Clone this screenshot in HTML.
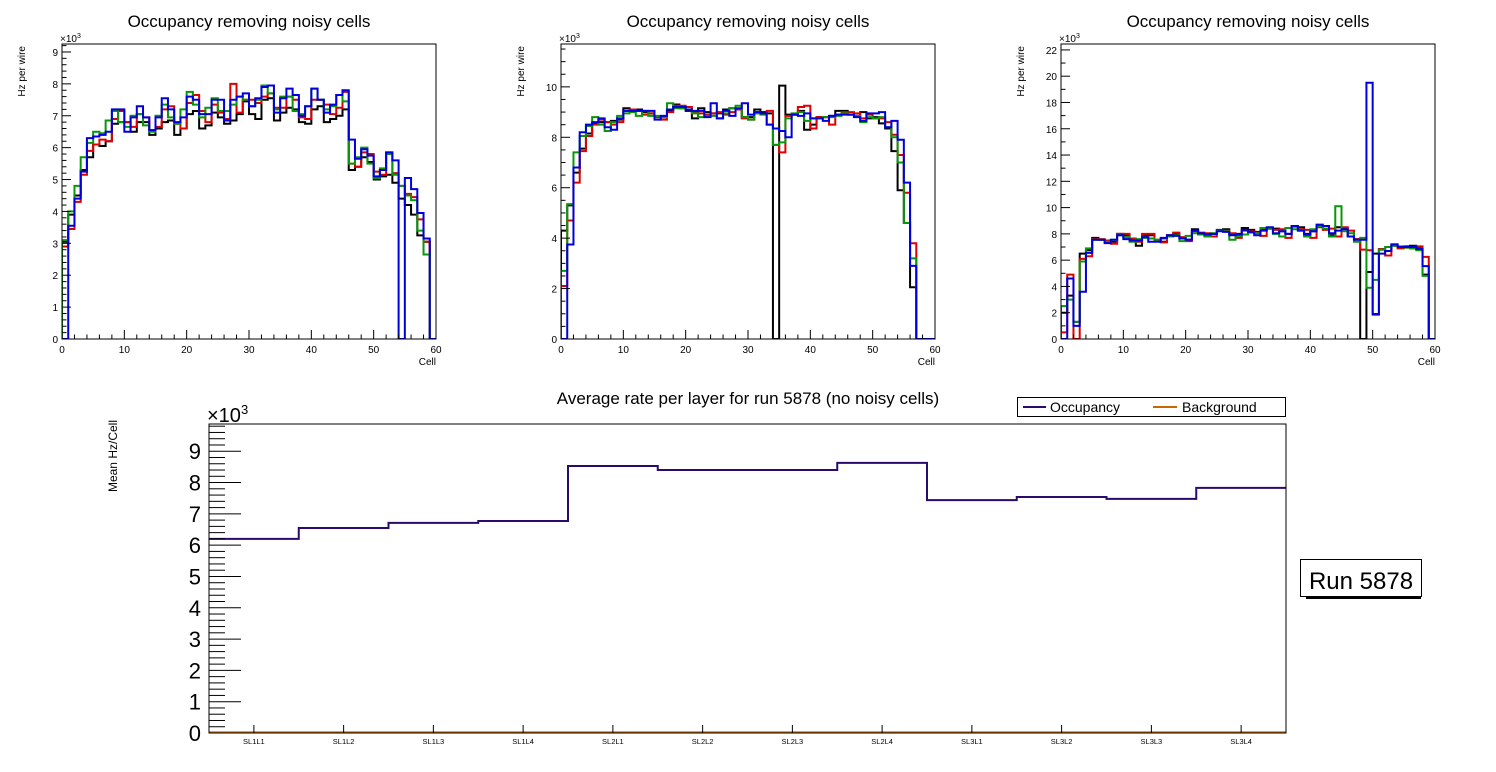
<!DOCTYPE html>
<html><head><meta charset="utf-8"><style>
body{margin:0;background:#fff;}
svg{display:block;font-family:"Liberation Sans",Arial,sans-serif;}
</style></head><body>
<svg id="c" width="1496" height="772" viewBox="0 0 1496 772"></svg>
<script>
// ---- Data: top panels (values in thousands of Hz per wire), 60 cells each ----
const p1Black=[3.05,3.9,4.5,5.3,5.7,6.1,6.05,6.2,6.75,6.8, 6.8,6.5,6.8,6.8,6.4,6.6,6.8,6.85,6.4,6.6, 7.05,7.15,6.6,6.7,7.1,6.95,6.75,6.85,7.05,7.45, 7.05,6.9,7.5,7.55,6.85,7.1,7.25,7.2,6.8,6.75, 7.2,7.3,6.8,6.9,7.0,7.2,5.3,5.4,5.7,5.55, 5.0,5.1,5.15,4.9,4.4,4.2,3.9,3.25,3.05,0];
const p1Red=[2.9,3.45,4.3,5.15,5.9,6.1,6.25,6.2,6.9,7.15, 6.8,6.65,7.05,6.95,6.55,6.65,7.2,7.3,6.75,6.6, 7.4,7.65,7.15,6.8,7.35,7.1,6.9,8.0,7.1,7.5, 7.5,7.4,7.6,7.7,7.25,7.25,7.6,7.5,6.95,6.9, 7.5,7.5,7.35,7.05,7.25,7.75,5.5,5.4,5.85,5.8, 5.25,5.15,5.85,5.2,4.8,4.55,4.45,3.75,3.05,0];
const p1Green=[3.1,4.0,4.8,5.7,6.15,6.5,6.45,6.85,7.15,6.8, 6.65,7.0,7.05,6.7,6.5,7.0,7.35,6.95,6.75,7.2, 7.75,7.35,6.95,7.25,7.55,7.15,7.15,7.35,7.6,7.5, 7.3,7.5,7.95,7.7,7.2,7.6,7.6,7.15,7.05,7.3, 7.85,7.5,7.2,7.3,7.65,7.45,5.5,5.7,6.0,5.5, 5.05,5.35,5.8,5.15,4.8,4.5,4.35,3.4,2.65,0];
const p1Blue=[0,3.55,4.4,5.25,6.3,6.35,6.4,6.5,7.2,7.2, 6.5,6.95,7.3,6.95,6.55,6.95,7.55,7.2,6.8,6.95, 7.6,7.5,7.05,7.05,7.5,7.5,6.85,7.5,7.6,7.7, 7.3,7.55,7.9,7.95,7.1,7.55,7.85,7.65,7.0,7.3, 7.85,7.5,7.1,7.35,7.65,7.8,6.25,5.65,5.95,5.75, 5.1,5.3,5.85,5.6,0,5.05,4.7,3.95,3.15,0];

const p2Black=[4.3,5.3,6.6,7.55,8.15,8.55,8.6,8.6,8.65,8.7, 9.15,9.05,9.1,9.0,8.95,8.8,8.8,9.05,9.3,9.15, 9.05,8.75,9.15,9.0,8.95,8.95,9.1,9.15,9.1,8.8, 8.8,9.1,9.0,8.95,0,10.05,8.9,8.9,9.05,8.3, 8.5,8.8,8.8,8.85,9.05,9.05,8.9,8.85,9.0,8.75, 8.8,8.55,8.35,7.45,5.9,4.6,2.05,0,0,0];
const p2Red=[2.1,4.7,6.2,7.45,8.05,8.5,8.7,8.6,8.5,8.6, 9.05,9.1,9.05,8.9,8.95,8.8,8.7,9.0,9.25,9.25, 9.2,9.0,8.95,8.9,8.95,9.0,8.9,9.0,9.1,8.75, 8.7,9.0,8.95,9.05,7.7,7.4,8.85,8.9,9.2,9.25, 8.35,8.8,8.8,8.5,8.9,9.0,9.0,8.95,8.75,8.9, 8.75,8.75,8.6,8.1,7.3,5.8,3.8,0,0,0];
const p2Green=[2.7,5.35,7.4,8.05,8.45,8.8,8.5,8.25,8.6,8.85, 8.95,9.0,8.85,9.05,8.85,8.85,8.8,9.35,9.15,9.15, 9.1,8.95,8.8,8.85,8.85,8.75,8.95,9.15,9.25,8.8, 8.7,8.95,8.9,8.5,7.7,7.8,8.75,8.95,9.0,8.65, 8.75,8.75,8.8,8.8,8.85,8.95,8.9,8.85,8.6,8.8, 8.75,8.8,8.4,8.0,7.0,4.6,3.2,0,0,0];
const p2Blue=[0,3.75,6.8,8.2,8.5,8.6,8.75,8.4,8.3,8.75, 9.05,9.05,9.05,9.05,9.05,8.7,8.85,9.1,9.2,9.2, 9.1,9.05,9.05,8.8,9.35,8.75,9.05,8.85,9.15,9.35, 8.9,9.0,8.95,8.5,8.35,8.25,8.0,8.9,8.85,8.95, 8.75,8.75,8.65,8.85,8.9,8.9,8.9,8.8,8.65,8.95, 8.95,9.0,8.4,8.65,7.9,6.2,2.9,0,0,0];

const p3Black=[2.0,3.3,1.3,6.5,6.75,7.7,7.55,7.5,7.4,8.0, 7.9,7.6,7.1,7.9,7.9,7.5,7.4,7.9,8.0,7.65, 7.55,8.35,8.0,7.95,8.0,8.3,8.35,8.0,8.0,8.45, 8.3,8.15,8.3,8.4,8.4,8.2,8.0,8.6,8.5,8.0, 8.2,8.6,8.6,7.9,8.5,8.4,7.8,7.6,0,5.1, 6.5,6.8,6.7,7.1,7.0,7.05,7.1,6.9,4.9,0];
const p3Red=[0.5,4.9,0,6.1,6.3,7.6,7.6,7.5,7.25,8.0, 8.0,7.65,7.4,8.0,8.0,7.55,7.35,7.9,8.1,7.75, 7.45,8.2,8.1,8.05,7.8,8.25,8.25,8.05,7.7,8.25, 8.2,8.1,7.85,8.4,8.3,8.35,7.7,8.55,8.35,8.3, 7.7,8.5,8.3,8.4,7.8,8.5,8.25,7.6,6.8,6.75, 1.85,6.85,6.35,7.2,6.9,6.95,6.9,7.05,6.25,0];
const p3Green=[2.5,3.0,1.3,5.9,6.9,7.55,7.55,7.4,7.55,7.9, 7.75,7.4,7.6,7.7,7.65,7.55,7.65,7.8,7.9,7.45, 7.85,8.05,7.95,7.8,8.05,8.25,8.2,7.55,7.85,7.95, 8.1,8.05,8.45,8.45,8.0,7.8,8.45,8.35,8.25,7.8, 8.35,8.6,8.4,7.8,10.1,8.2,8.05,7.4,7.7,3.9, 4.5,6.8,7.0,7.1,7.05,6.95,6.9,6.75,4.8,0];
const p3Blue=[0,4.6,1.0,3.6,6.55,7.55,7.55,7.3,7.55,7.9, 7.6,7.5,7.5,7.75,7.4,7.4,7.7,7.9,7.85,7.65, 7.55,8.25,8.05,7.95,8.0,8.2,8.15,7.9,7.95,8.3, 8.15,7.9,8.25,8.5,8.05,8.2,8.0,8.6,8.25,7.95, 8.2,8.7,8.6,8.05,8.25,8.35,7.8,7.55,7.55,19.5, 1.9,6.5,6.7,7.2,7.0,7.0,7.0,6.85,5.55,0];

// ---- Data: bottom summary ----
const layers=["SL1L1","SL1L2","SL1L3","SL1L4","SL2L1","SL2L2","SL2L3","SL2L4","SL3L1","SL3L2","SL3L3","SL3L4"];
const occupancy=[6.2,6.55,6.71,6.77,8.53,8.4,8.4,8.63,7.44,7.54,7.48,7.83];
const background=[0.02,0.02,0.02,0.02,0.02,0.02,0.02,0.02,0.02,0.02,0.02,0.02];
const bottomYTicks=[0,1,2,3,4,5,6,7,8,9];

const NS="http://www.w3.org/2000/svg";
const svg=document.getElementById('c');
function el(tag,attrs,parent){const e=document.createElementNS(NS,tag);for(const k in attrs)e.setAttribute(k,attrs[k]);(parent||svg).appendChild(e);return e;}

const colors=["#000000","#dd0000","#08960a","#0000dd"];
const seriesNames=["layer-1","layer-2","layer-3","layer-4"];
const panels=[
 {x0:62,x1:436,ymax:9.25,major:1,minor:0.2,series:[p1Black,p1Red,p1Green,p1Blue]},
 {x0:561,x1:935,ymax:11.7,major:2,minor:0.5,series:[p2Black,p2Red,p2Green,p2Blue]},
 {x0:1061,x1:1435,ymax:22.45,major:2,minor:1,series:[p3Black,p3Red,p3Green,p3Blue]}
];
const yTop=44,yBot=339;
panels.forEach((p,pi)=>{
  const g=el('g',{});
  
  
  const X=v=>p.x0+(p.x1-p.x0)*v/60;
  const Y=v=>yBot-(yBot-yTop)*v/p.ymax;
  const cid='clip'+pi;
  const cp=el('clipPath',{id:cid},g);
  el('rect',{x:p.x0,y:yTop,width:p.x1-p.x0,height:yBot-yTop},cp);
  p.series.forEach((vals,si)=>{
    let d=`M${X(0)},${Y(0)}`;
    vals.forEach((v,i)=>{d+=`L${X(i)},${Y(v)}L${X(i+1)},${Y(v)}`;});
    d+=`L${X(vals.length)},${Y(0)}`;
    const path=el('path',{d:d,fill:'none',stroke:colors[si],'stroke-width':2,'clip-path':`url(#${cid})`},g);
    
    
  });
  el('rect',{x:p.x0,y:yTop,width:p.x1-p.x0,height:yBot-yTop,fill:'none',stroke:'#000','stroke-width':1},g);
  // x ticks
  for(let v=0;v<=60;v+=2){
    const major=v%10===0;
    el('line',{x1:X(v),x2:X(v),y1:yBot,y2:yBot-(major?9:4.5),stroke:'#000','stroke-width':1},g);
    if(major){const t=el('text',{x:X(v),y:yBot+14,'font-size':10,'text-anchor':'middle'},g);t.textContent=v;
      }
  }
  // y ticks
  for(let v=0;v<=p.ymax+1e-6;v+=p.minor){
    const vv=Math.round(v*100)/100;
    const major=Math.abs(vv/p.major-Math.round(vv/p.major))<1e-6;
    el('line',{x1:p.x0,x2:p.x0+(major?9:4.5),y1:Y(vv),y2:Y(vv),stroke:'#000','stroke-width':1},g);
    if(major){const t=el('text',{x:p.x0-4,y:Y(vv)+4,'font-size':10,'text-anchor':'end'},g);t.textContent=vv;
      }
  }
  const ex=el('text',{x:p.x0-2,y:yTop-2,'font-size':10},g);
  ex.innerHTML='×10<tspan dy="-4" font-size="7">3</tspan>';
  
  const tt=el('text',{x:(p.x0+p.x1)/2,y:27,'font-size':17,'text-anchor':'middle'},g);
  tt.textContent='Occupancy removing noisy cells';
  
  const xl=el('text',{x:p.x1,y:365,'font-size':10,'text-anchor':'end'},g);
  xl.textContent='Cell';
  
  const yl=el('text',{x:0,y:0,'font-size':10,'text-anchor':'end',transform:`translate(${p.x0-37},${yTop+2}) rotate(-90)`},g);
  yl.textContent='Hz per wire';
  
});

// ---- Bottom chart ----
const bx0=209,bx1=1286,by0=424,by1=733,bymax=9.87;
const bg=el('g',{});


const BX=i=>bx0+(bx1-bx0)*i/layers.length;
const BY=v=>by1-(by1-by0)*v/bymax;
function stepPath(vals){let d='';vals.forEach((v,i)=>{d+=(i===0?`M${BX(0)},${BY(v)}`:`L${BX(i)},${BY(v)}`)+`L${BX(i+1)},${BY(v)}`;});return d;}
const occ=el('path',{d:stepPath(occupancy),fill:'none',stroke:'#2a0a6a','stroke-width':2},bg);

const bkg=el('path',{d:stepPath(background),fill:'none',stroke:'#cc6600','stroke-width':2},bg);

el('rect',{x:bx0,y:by0,width:bx1-bx0,height:by1-by0,fill:'none',stroke:'#000','stroke-width':1},bg);
for(let v=0;v<=bymax;v+=0.2){
  const vv=Math.round(v*10)/10;
  el('line',{x1:bx0,x2:bx0+(Number.isInteger(vv)?32:16),y1:BY(vv),y2:BY(vv),stroke:'#000','stroke-width':1},bg);
}
bottomYTicks.forEach(v=>{
  const t=el('text',{x:bx0-8,y:BY(v)+8,'font-size':22,'text-anchor':'end'},bg);t.textContent=v;
  
});
layers.forEach((n,i)=>{
  const cx=(BX(i)+BX(i+1))/2;
  el('line',{x1:cx,x2:cx,y1:by1,y2:by1-8,stroke:'#000','stroke-width':1},bg);
  const t=el('text',{x:cx,y:by1+11,'font-size':7.5,'text-anchor':'middle'},bg);t.textContent=n;
  
});
const bex=el('text',{x:bx0-2,y:by0-2,'font-size':20},bg);
bex.innerHTML='×10<tspan dy="-8" font-size="13">3</tspan>';

const bt=el('text',{x:748,y:404,'font-size':17,'text-anchor':'middle'},bg);
bt.textContent='Average rate per layer for run 5878 (no noisy cells)';

const byl=el('text',{x:0,y:0,'font-size':12,'text-anchor':'end',transform:`translate(117,${by0-4}) rotate(-90)`},bg);
byl.textContent='Mean Hz/Cell';


// legend
const lg=el('g',{});


el('rect',{x:1017.5,y:397.5,width:268,height:19,fill:'#fff',stroke:'#000','stroke-width':1},lg);
el('line',{x1:1023,x2:1046,y1:407,y2:407,stroke:'#2a0a6a','stroke-width':2},lg);
const l1=el('text',{x:1050,y:412,'font-size':14},lg);l1.textContent='Occupancy';

el('line',{x1:1153,x2:1177,y1:407,y2:407,stroke:'#cc6600','stroke-width':2},lg);
const l2=el('text',{x:1182,y:412,'font-size':14},lg);l2.textContent='Background';


// run box
const rb=el('g',{});


el('rect',{x:1306,y:595,width:115,height:4,fill:'#000'},rb);
el('rect',{x:1300.5,y:559.5,width:121,height:37,fill:'#fff',stroke:'#000','stroke-width':1},rb);
const rt=el('text',{x:1361,y:589,'font-size':24,'text-anchor':'middle'},rb);rt.textContent='Run 5878';

</script>
</body></html>
